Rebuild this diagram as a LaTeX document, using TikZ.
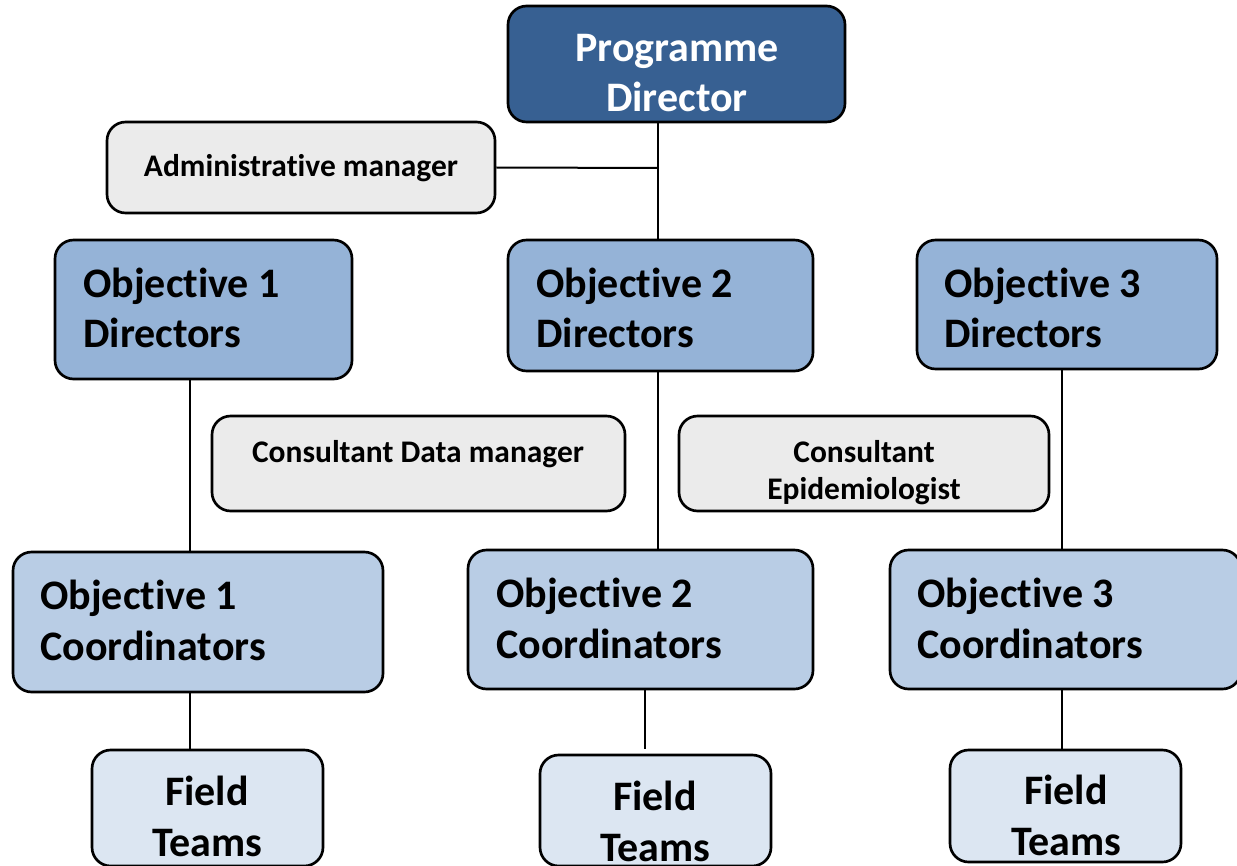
\documentclass[tikz,border=0pt]{standalone}
\usepackage{fontspec}
\setmainfont[Ligatures=NoCommon]{Carlito}
\usetikzlibrary{fit}
\definecolor{pdblue}{HTML}{376092}
\definecolor{dirblue}{HTML}{95B3D7}
\definecolor{coordblue}{HTML}{B9CDE5}
\definecolor{fieldblue}{HTML}{DCE6F2}
\definecolor{boxgray}{HTML}{EBEBEB}
\tikzset{
  box/.style={draw=black, line width=2pt, rounded corners=14pt, inner sep=0pt},
  conn/.style={draw=black, line width=1.5pt},
  bigtxt/.style={font=\fontsize{31.5}{37.5}\selectfont\bfseries, inner sep=0pt},
  smalltxt/.style={font=\fontsize{23.6}{28}\selectfont\bfseries, inner sep=0pt},
}
\begin{document}
\begin{tikzpicture}[x=0.75pt,y=-0.75pt]
\useasboundingbox (0,0) rectangle (1237,866);
\clip (0,0) rectangle (1237,866);
% boxes
\node[box, fill=pdblue, fit={(508,6) (845,122)}] (pd) {};
\node[box, fill=boxgray, fit={(107,122) (495,213)}] (adm) {};
\node[box, fill=dirblue, fit={(55,240) (352,379)}] (d1) {};
\node[box, fill=dirblue, fit={(508,240) (813,371)}] (d2) {};
\node[box, fill=dirblue, fit={(917,240) (1217,369)}] (d3) {};
\node[box, fill=boxgray, fit={(212,416) (625,511)}] (cdm) {};
\node[box, fill=boxgray, fit={(679,416) (1049,511)}] (ce) {};
\node[box, fill=coordblue, fit={(13,552) (383,692)}] (c1) {};
\node[box, fill=coordblue, fit={(468,550) (813,689)}] (c2) {};
\node[box, fill=coordblue, fit={(890,550) (1241,689)}] (c3) {};
\node[box, fill=fieldblue, fit={(92,750) (323,866)}] (f1) {};
\node[box, fill=fieldblue, fit={(540,755) (771,866)}] (f2) {};
\node[box, fill=fieldblue, fit={(950,750) (1181,862)}] (f3) {};
% connector coordinates
\coordinate (j) at (658,168);
\coordinate (k1) at (190,0);
\coordinate (k3) at (1062,0);
\coordinate (f2top) at (645,749);
% connectors
\draw[conn] (j |- pd.south) -- (j |- d2.north);
\draw[conn] (adm.east) -- (j);
\draw[conn] (k1 |- d1.south) -- (k1 |- c1.north);
\draw[conn] (j |- d2.south) -- (j |- c2.north);
\draw[conn] (k3 |- d3.south) -- (k3 |- c3.north);
\draw[conn] (k1 |- c1.south) -- (k1 |- f1.north);
\draw[conn] (f2top |- c2.south) -- (f2top);
\draw[conn] (k3 |- c3.south) -- (k3 |- f3.north);
% texts
\node[bigtxt, text=white, anchor=base] (pdt1) at (677,62) {Programme};
\node[bigtxt, text=white, anchor=base] (pdt2) at (677,112) {Director};
\node[smalltxt, anchor=base] (admt) at (301,177) {Administrative manager};
\node[bigtxt, anchor=base west] (d1a) at (83,297) {Objective 1};
\node[bigtxt, anchor=base west] (d1b) at (83,347) {Directors};
\node[bigtxt, anchor=base west] (d2a) at (536,297) {Objective 2};
\node[bigtxt, anchor=base west] (d2b) at (536,347) {Directors};
\node[bigtxt, anchor=base west] (d3a) at (944,297) {Objective 3};
\node[bigtxt, anchor=base west] (d3b) at (944,347) {Directors};
\node[smalltxt, anchor=base] (cdmt) at (418,462) {Consultant Data manager};
\node[smalltxt, anchor=base] (cea) at (864,462) {Consultant};
\node[smalltxt, anchor=base] (ceb) at (864,499) {Epidemiologist};
\node[bigtxt, anchor=base west] (c1a) at (40,609) {Objective 1};
\node[bigtxt, anchor=base west] (c1b) at (40,660) {Coordinators};
\node[bigtxt, anchor=base west] (c2a) at (496,607) {Objective 2};
\node[bigtxt, anchor=base west] (c2b) at (496,658) {Coordinators};
\node[bigtxt, anchor=base west] (c3a) at (917,607) {Objective 3};
\node[bigtxt, anchor=base west] (c3b) at (917,658) {Coordinators};
\node[bigtxt, anchor=base] (f1a) at (207,805) {Field};
\node[bigtxt, anchor=base] (f1b) at (207,856) {Teams};
\node[bigtxt, anchor=base] (f2a) at (655,810) {Field};
\node[bigtxt, anchor=base] (f2b) at (655,861) {Teams};
\node[bigtxt, anchor=base] (f3a) at (1066,804) {Field};
\node[bigtxt, anchor=base] (f3b) at (1066,855) {Teams};
\end{tikzpicture}
\end{document}
